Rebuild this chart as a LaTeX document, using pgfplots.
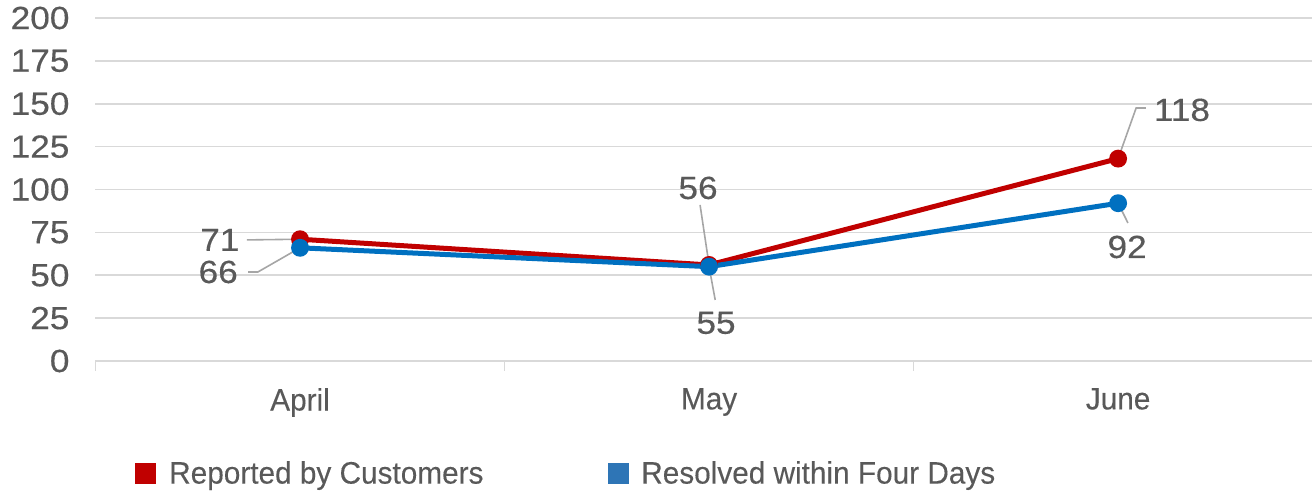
\documentclass[border=0pt]{standalone}
\usepackage{pgfplots}
\pgfplotsset{compat=1.18}
\usepackage{fontspec}
\setmainfont{Liberation Sans}
\newfontfamily\numfamily[FakeStretch=1.1, FakeBold=0.3]{Liberation Sans}
\newfontfamily\txtfamily[FakeStretch=0.96, FakeBold=0.2]{Liberation Sans}
\definecolor{rptred}{HTML}{C00000}
\definecolor{resblue}{HTML}{0070C0}
\definecolor{legblue}{HTML}{2E75B6}
\definecolor{txtgray}{HTML}{595959}
\definecolor{gridgray}{HTML}{D9D9D9}
\definecolor{leadgray}{HTML}{A6A6A6}
\newcommand{\numfont}{\numfamily\fontsize{16}{18}\selectfont}
\newcommand{\lblfont}{\txtfamily\fontsize{15.5}{18}\selectfont}

\begin{document}
\begin{tikzpicture}
\begin{axis}[
  scale only axis, width=608.25pt, height=171.5pt,
  xmin=-0.5, xmax=2.474, ymin=0, ymax=200,
  ytick={0,25,...,200},
  xtick={0,1,2}, xticklabels={April,May,June},
  minor xtick={-0.5,0.5,1.5},
  xtick pos=bottom, ytick pos=left,
  axis line style={draw=none},
  ymajorgrids, grid style={gridgray, line width=0.8pt},
  major tick length=0pt, minor tick length=5pt,
  tick align=outside,
  minor tick style={gridgray, line width=0.8pt},
  ticklabel style={text=txtgray},
  yticklabel style={font=\numfont, anchor=east, xshift=-9.5pt},
  xticklabel style={font=\lblfont, anchor=north, yshift=-10pt},
  /pgf/number format/assume math mode=true,
  clip=false,
  legend columns=2,
  legend style={draw=none, fill=none, at={(axis description cs:0.0325,-0.329)},
    anchor=west, inner sep=0pt,
    nodes={font=\lblfont, text=txtgray, inner sep=0pt},
    /tikz/every even column/.append style={column sep=62pt},
    /tikz/every odd column/.append style={column sep=6.5pt}},
]
% monthly counts
\addplot[rptred, line width=2.5pt, mark=*, mark size=3.2pt, forget plot]
  coordinates {(0,71) (1,56) (2,118)};
\addplot[resblue, line width=2.5pt, mark=*, mark size=3.2pt, forget plot]
  coordinates {(0,66) (1,55) (2,92)};

% leader lines for the value labels
\draw[leadgray, line width=0.8pt] (axis cs:-0.130,70.6) -- (axis cs:0,71);
\draw[leadgray, line width=0.8pt] (axis cs:-0.127,51.9) -- (axis cs:-0.103,51.9) -- (axis cs:0,66);
\draw[leadgray, line width=0.8pt] (axis cs:0.978,91) -- (axis cs:1,56);
\draw[leadgray, line width=0.8pt] (axis cs:1.015,35.6) -- (axis cs:1,55);
\draw[leadgray, line width=0.8pt] (axis cs:2.068,147.5) -- (axis cs:2.044,147.5) -- (axis cs:2,118);
\draw[leadgray, line width=0.8pt] (axis cs:2.024,80.5) -- (axis cs:2,92);

% value labels
\node[font=\numfont, text=txtgray] at (axis cs:-0.196,70.6) {71};
\node[font=\numfont, text=txtgray] at (axis cs:-0.200,51.9) {66};
\node[font=\numfont, text=txtgray] at (axis cs:0.973,100.9) {56};
\node[font=\numfont, text=txtgray] at (axis cs:1.017,22.2) {55};
\node[font=\numfont, text=txtgray] at (axis cs:2.156,146.4) {118};
\node[font=\numfont, text=txtgray] at (axis cs:2.022,66.5) {92};

\addlegendimage{legend image code/.code={\fill[rptred] (0pt,-5pt) rectangle (10pt,5pt);}}
\addlegendentry{Reported by Customers}
\addlegendimage{legend image code/.code={\fill[legblue] (0pt,-5pt) rectangle (10pt,5pt);}}
\addlegendentry{Resolved within Four Days}
\end{axis}
\pgfresetboundingbox
\path (-47.75pt,-67.5pt) rectangle (608.25pt,180.5pt);
\end{tikzpicture}
\end{document}
